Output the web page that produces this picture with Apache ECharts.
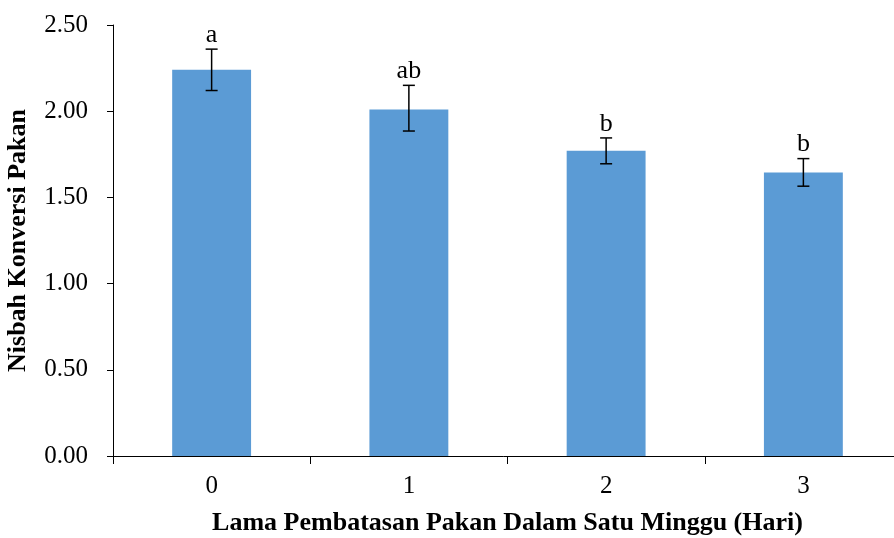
<!DOCTYPE html>
<html><head><meta charset="utf-8">
<script src="https://cdn.jsdelivr.net/npm/echarts@6/dist/echarts.min.js"></script>
<style>html,body{margin:0;padding:0;background:#fff}#c{width:894px;height:538px}</style>
</head><body><div id="c"></div>
<script>
const categories = ['0', '1', '2', '3'];
const meanValues = [2.24, 2.01, 1.77, 1.645];
const errLow = [2.12, 1.885, 1.695, 1.565];
const errHigh = [2.36, 2.15, 1.845, 1.725];
const sigLetters = ['a', 'ab', 'b', 'b'];
const yTicks = { min: 0, max: 2.5, interval: 0.5 };

const font = 'Liberation Serif, Times New Roman, serif';
const chart = echarts.init(document.getElementById('c'));
const errData = categories.map((c, i) => [i, errLow[i], errHigh[i]]);

chart.setOption({
  animation: false,
  grid: { left: 113, top: 25, bottom: 82, right: -8, containLabel: false, outerBoundsMode: 'none' },
  xAxis: {
    type: 'category', data: categories,
    axisLine: { lineStyle: { color: '#000', width: 1 } },
    axisTick: { show: true, alignWithLabel: false, length: 8, lineStyle: { color: '#000' } },
    axisLabel: { color: '#000', fontFamily: font, fontSize: 25, margin: 18 },
    name: 'Lama Pembatasan Pakan Dalam Satu Minggu (Hari)',
    nameLocation: 'middle', nameGap: 54,
    nameTextStyle: { color: '#000', fontFamily: font, fontSize: 26, fontWeight: 'bold' }
  },
  yAxis: {
    type: 'value', min: yTicks.min, max: yTicks.max, interval: yTicks.interval,
    splitLine: { show: false },
    axisLine: { show: true, lineStyle: { color: '#000', width: 1 } },
    axisTick: { show: true, length: 6, lineStyle: { color: '#000' } },
    axisLabel: { color: '#000', fontFamily: font, fontSize: 25, margin: 25, formatter: v => v.toFixed(2) },
    name: 'Nisbah Konversi Pakan',
    nameLocation: 'middle', nameGap: 82,
    nameTextStyle: { color: '#000', fontFamily: font, fontSize: 26, fontWeight: 'bold' }
  },
  series: [
    {
      type: 'bar', data: meanValues, barWidth: '40%',
      itemStyle: { color: '#5B9BD5' }
    },
    {
      type: 'custom', data: errData, z: 5,
      encode: { x: 0, y: [1, 2] },
      renderItem: function (params, api) {
        const i = api.value(0);
        const lo = api.coord([i, api.value(1)]);
        const hi = api.coord([i, api.value(2)]);
        const hw = 6;
        const st = { stroke: '#000', lineWidth: 1.5 };
        return {
          type: 'group',
          children: [
            { type: 'line', shape: { x1: hi[0], y1: hi[1], x2: lo[0], y2: lo[1] }, style: st },
            { type: 'line', shape: { x1: hi[0] - hw, y1: hi[1], x2: hi[0] + hw, y2: hi[1] }, style: st },
            { type: 'line', shape: { x1: lo[0] - hw, y1: lo[1], x2: lo[0] + hw, y2: lo[1] }, style: st },
            { type: 'text', style: { text: sigLetters[params.dataIndex], x: hi[0], y: hi[1] - 1,
              textAlign: 'center', textVerticalAlign: 'bottom', fill: '#000', font: '26px ' + font } }
          ]
        };
      }
    }
  ]
});
</script></body></html>
